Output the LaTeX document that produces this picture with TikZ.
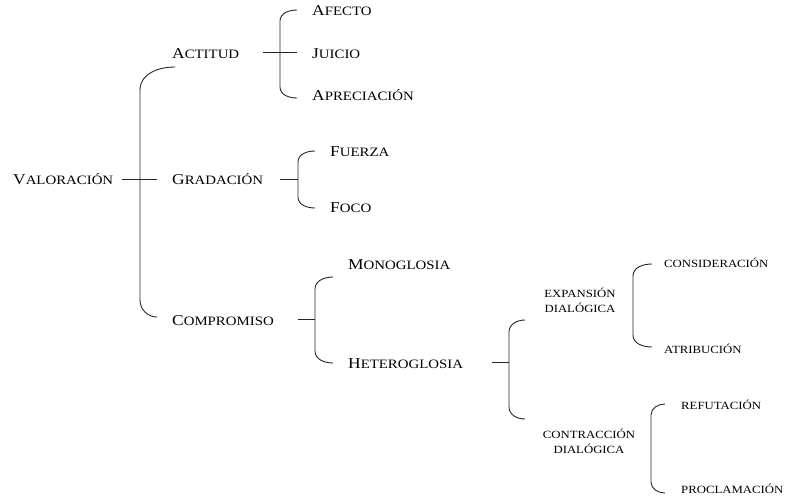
\documentclass[tikz,border=0pt]{standalone}
\usepackage{fontspec}
\setmainfont{Liberation Serif}
\newfontfamily\rf[FakeStretch=1.16]{Liberation Serif}
\newcommand\SCx[2]{{\fontsize{15}{18}\selectfont #1}{\fontsize{12.8}{15}\selectfont #2}}
\newcommand\lowsz{\fontsize{11}{15}\selectfont}
\begin{document}
\begin{tikzpicture}[x=1pt,y=-1pt]
\tikzset{
  lbl/.style={anchor=base west, inner sep=0pt, font=\rf, text=black},
  low/.style={anchor=base west, inner sep=0pt, font=\rf\lowsz, text=black},
  br/.style={draw=black!85, line width=0.9pt}
}
\useasboundingbox (0,0) rectangle (786,498);
% level 1-2 labels
\node[lbl] (valoracion) at (13,184) {\SCx{V}{ALORACIÓN}};
\node[lbl] (actitud) at (172,58) {\SCx{A}{CTITUD}};
\node[lbl] (gradacion) at (172,184) {\SCx{G}{RADACIÓN}};
\node[lbl] (compromiso) at (172,325) {\SCx{C}{OMPROMISO}};
\node[lbl] (afecto) at (312,15) {\SCx{A}{FECTO}};
\node[lbl] (juicio) at (312,58) {\SCx{J}{UICIO}};
\node[lbl] (apreciacion) at (312,100) {\SCx{A}{PRECIACIÓN}};
\node[lbl] (fuerza) at (330,156) {\SCx{F}{UERZA}};
\node[lbl] (foco) at (330,212) {\SCx{F}{OCO}};
\node[lbl] (monoglosia) at (348,269) {\SCx{M}{ONOGLOSIA}};
\node[lbl] (heteroglosia) at (348,368) {\SCx{H}{ETEROGLOSIA}};
% lower labels
\node[low, anchor=base] (expansion) at (580,297) {\begin{tabular}[t]{@{}c@{}}EXPANSIÓN\\DIALÓGICA\end{tabular}};
\node[low, anchor=base] (contraccion) at (589,438) {\begin{tabular}[t]{@{}c@{}}CONTRACCIÓN\\DIALÓGICA\end{tabular}};
\node[low] (consideracion) at (664,267) {CONSIDERACIÓN};
\node[low] (atribucion) at (664,353) {ATRIBUCIÓN};
\node[low] (refutacion) at (681,409) {REFUTACIÓN};
\node[low] (proclamacion) at (681,493) {PROCLAMACIÓN};
% coordinates
\coordinate (v-s) at (122,179);
\coordinate (v-m) at (157,179);
\coordinate (v-t) at (175,67);
\coordinate (v-b) at (157,317);
\coordinate (a-s) at (263,52);
\coordinate (a-m) at (297,52);
\coordinate (a-t) at (297,10);
\coordinate (a-b) at (297,98);
\coordinate (g-s) at (280,179);
\coordinate (g-m) at (298,179);
\coordinate (g-t) at (315,151);
\coordinate (g-b) at (315,208);
\coordinate (c-s) at (298,319);
\coordinate (c-m) at (315,319);
\coordinate (c-t) at (333,277);
\coordinate (c-b) at (333,363);
\coordinate (h-s) at (492,362);
\coordinate (h-m) at (509,362);
\coordinate (h-t) at (525,320);
\coordinate (h-b) at (525,419);
\coordinate (e-t) at (652,264);
\coordinate (e-b) at (652,347);
\coordinate (k-t) at (665,404);
\coordinate (k-b) at (665,493);
% brackets
\draw[br] (v-s) -- (v-m);
\draw[br] (v-t) to[out=180,in=90] (140,90) -- (140,300) to[out=-90,in=180] (v-b);
\draw[br] (a-s) -- (a-m);
\draw[br] (a-t) to[out=180,in=90] (280,21) -- (280,87) to[out=-90,in=180] (a-b);
\draw[br] (g-s) -- (g-m);
\draw[br] (g-t) to[out=180,in=90] (298,162) -- (298,197) to[out=-90,in=180] (g-b);
\draw[br] (c-s) -- (c-m);
\draw[br] (c-t) to[out=180,in=90] (315,289) -- (315,351) to[out=-90,in=180] (c-b);
\draw[br] (h-s) -- (h-m);
\draw[br] (h-t) to[out=180,in=90] (509,332) -- (509,407) to[out=-90,in=180] (h-b);
\draw[br] (e-t) to[out=180,in=90] (633,276) -- (633,335) to[out=-90,in=180] (e-b);
\draw[br] (k-t) to[out=180,in=90] (651,415) -- (651,482) to[out=-90,in=180] (k-b);
\end{tikzpicture}
\end{document}
